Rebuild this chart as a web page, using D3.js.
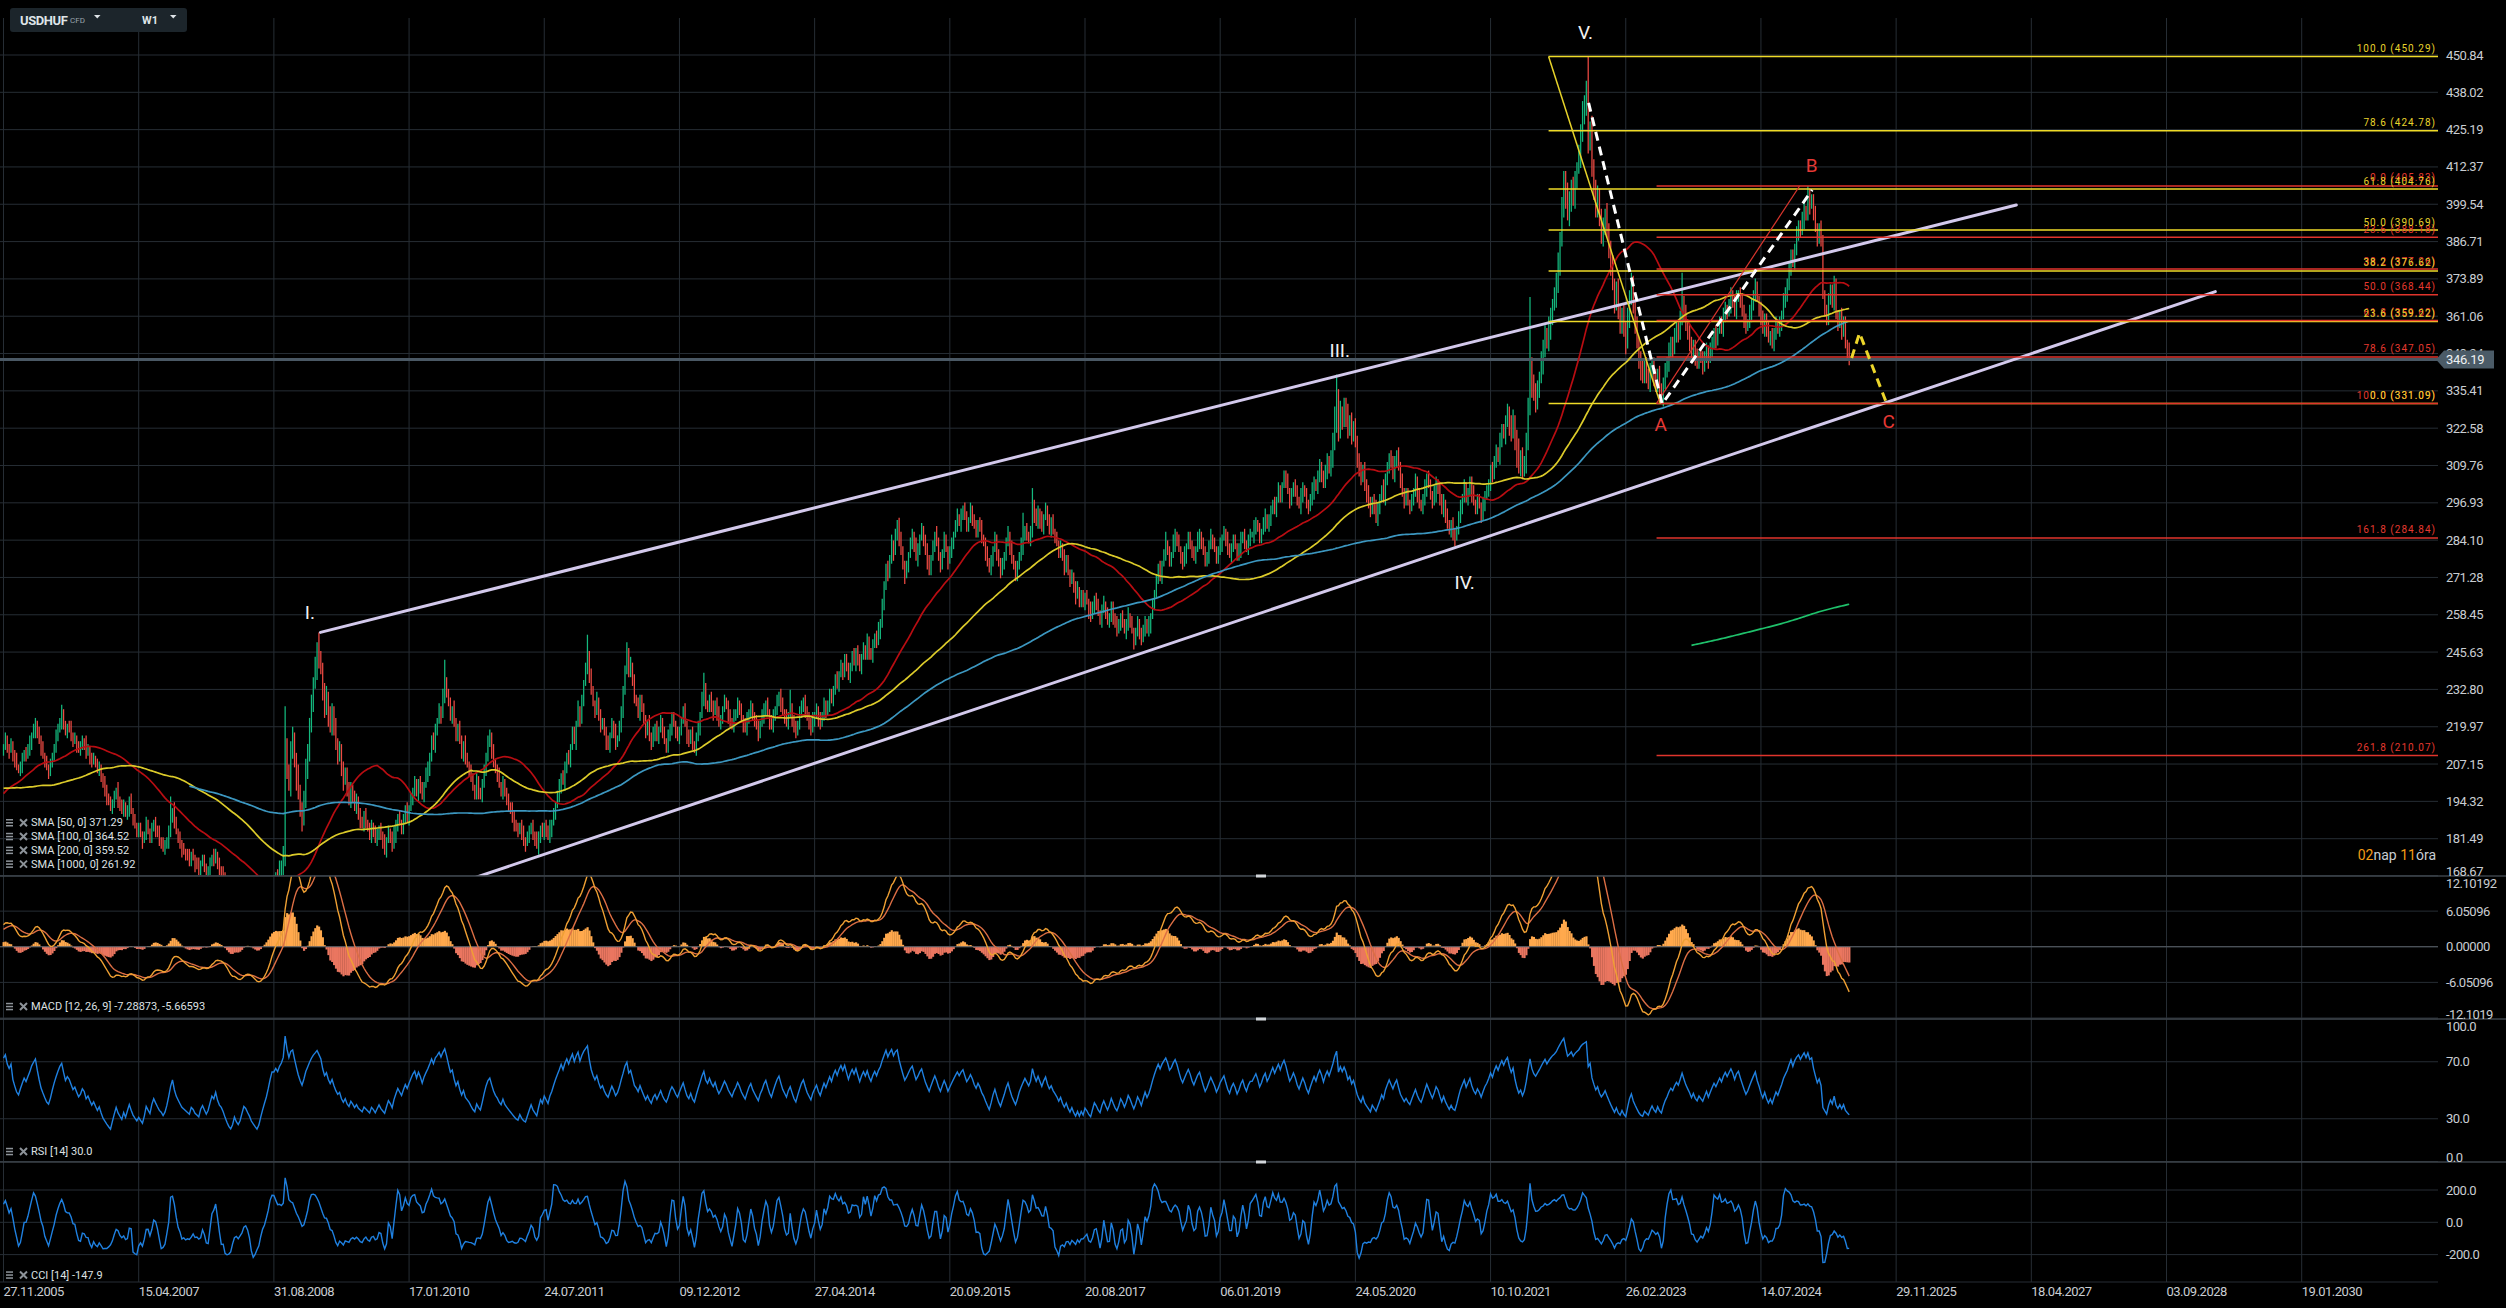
<!DOCTYPE html>
<html>
<head>
<meta charset="utf-8">
<title>USDHUF W1</title>
<script src="https://cdn.jsdelivr.net/npm/d3@7/dist/d3.min.js"></script>
<style>
  html, body { margin: 0; padding: 0; background: #000; overflow: hidden; }
  svg { display: block; }
  text { font-family: Roboto, "Noto Sans", sans-serif; }
</style>
</head>
<body>
<svg id="chart"></svg>
<script>
// ---------------- data ----------------

// one axis label every 72 weekly bars
const barsPerLabel = 72;
const dateLabels = ["27.11.2005", "15.04.2007", "31.08.2008", "17.01.2010", "24.07.2011", "09.12.2012",
  "27.04.2014", "20.09.2015", "20.08.2017", "06.01.2019", "24.05.2020", "10.10.2021", "26.02.2023",
  "14.07.2024", "29.11.2025", "18.04.2027", "03.09.2028", "19.01.2030"];

const priceTicks = [450.84, 438.02, 425.19, 412.37, 399.54, 386.71, 373.89, 361.06, 348.24, 335.41, 322.58,
  309.76, 296.93, 284.10, 271.28, 258.45, 245.63, 232.80, 219.97, 207.15, 194.32, 181.49, 168.67];
const macdTicks = [12.10192, 6.05096, 0, -6.05096, -12.10192];
const macdTickLabels = ["12.10192", "6.05096", "0.00000", "-6.05096", "-12.1019"];
const rsiTicks = [100, 70, 30, 0];
const cciTicks = [200, 0, -200];

// weekly closes before the visible window (only feed the moving averages)
const preCloses = [
  212,208,210,214,212, 207,205,203,206, 208,206,204,202,207, 209,211,213,210, 208,206,204,207,205,
  204,206,207,205, 202,200,203,205, 203,201,200,199,201, 200,198,197,195, 196,193,190,188,186,
  184,183,181,182, 180,179,181,180,
  184,188,190,189,187, 185,183,182,180, 182,185,189,192,191, 190,193,195,196, 194,197,199,201,203,
  205,207,206,204, 208,206,204,203,200, 198,196,197,199, 201,200,202,204,205, 206,207,209,210, 211,212
];

// weekly closes, visible bars (bar 0 = 27.11.2005)
const closes = [
  // 2005-2006
  213,215,213,212,214, 210,208,206,205,207,209,211,210, 212,214,217,219,221,218,215,212,210,208,
  206,205,207,210,213,216, 219,222,224,221,218,220, 219,217,215,216,214,212,213,215,214,211,212,
  210,208,209,207,205,206,
  // 2006-2007
  203,200,198,196,194,192,194,196,198,195,193,191,193,190,192,194,
  191,188,186,184,185,183,181,183,186,184,182,185,
  187,185,183,181,180,178,179,181,184,188,191,187,184,182,
  180,178,177,176,175,174,176,175,173,172,171,173,174,172,170,171,173,175,174,176,173,171,170,168,
  // 2008
  165,162,159,157,158,160,157,155,156,158,160,159,157,155,152,150,148,146,147,149,151,153,155,158,162,166,
  166,168,167,170,172,176,212,205,200,
  212,215,209,203,197,192,188,195,205,212,220,228,
  // 2009
  235,240,246,243,240, 232,226,230,224,220,225,219,214,210,212, 205,201,204,198,195,199,196,192,194,
  190,188,186,189,187,185,183,186,184,181,183,185,182,180,178,181,184,182,179,183,186,189,187,185,
  188,191,189,192,
  // 2010
  195,198,200,197,201,199,196,200,203,206,210,215,213,219,222,226,224,230,235,232,
  228,224,226,221,217,220,215,211,214,209,207,205, 202,199,197,201,198,196,200,
  205,210,214,216,212,208,205, 203,200,198,201,197,195,193,
  // 2011
  191,189,187,185,184,186,183,181,180,182,184,186,183,181,179,182,185,183,186,184,182,185,187,190,193,196,
  199,203,201,206,210,208,213, 218,215,221,226,222,229,235,240,245,238,
  // 2012
  232,228,225,229,224, 220,222,218,215,213,217,221,218,214,216,220, 226,232,240,245,238,241,236,230,
  228,225,230,226,222,218,221,217,214,218,220,216,
  219,222,218,215,213,216,220,223,221,218,216,219,222,225,221,217,215,218,214,212,216,220,224,
  // 2013-2014
  229,233,228,226,230,
  227,225,228,224,221,223,226,229,227,224, 222,220,223,225,228,226,223,221,219,222,
  225,227,224,222,220,218,221,223,226,228, 225,222,220,223,226,229,231,228,225,223,
  221,224,226,223,220,218,221,224,227,229, 226,223,221,219,222,224,
  226,223,221,224,227,225,228,231,229,233,236,234,238,241,239,243,240,237,241,244,
  242,246,243,240,244,247,245,249,246,244,248,251,249,253,256,
  // 2015
  262,268,275,272,278,283,280,286,
  289,284,280,276,272,275,279,283,286,282, 278,281,285,288,284,280,277,274,278,282,
  286,283,279,276,280,284,281,277,280,
  283,286,289,292,290,293,295,292,289,291,294,292,289,287,290,288,285,283,
  // 2016-2017
  280,277,274,277,281,284,280,276,273,276,279,283,286,282,278,275,272,275,279,282,285,288,286,284,287,
  297,
  293,290,294,291,288,292,295,291,288,290,287,285,
  283,280,282,278,275,277,273,270,272,268,265,267,263,265,
  262,265,263,260,258,261,264,262,259,257,260,262,259,256,258,261,258,255,253,
  // 2018
  255,258,256,253,255,258,256,253,250,252,255,253,250,253,256,253,255,258,
  262,266,270,274,272,276,279,
  282,280,277,279,283,286,284,281,278,276, 279,282,285,283,280,278,281,284,286,283,
  280,277,279,282,285,283,281,278,280,283, 285,287,284,281,279,282,284,282,279,281,
  284,286,283,281,284,286,
  // 2019
  286,288,290,288,285,287,290,292,289,291, 294,297,295,298,301,299,303,306,304,301,
  298,300,303,301,298,296,299,302,300,297, 295,298,301,304,302,306,309,307,304,308,
  311,309,313,318,
  // 2020
  326,333,322,328,325,330,327,322,325,320,323,318,
  312,308,305,309,303,300,297,294,298,295,292,
  295,298,302,299,305,309,313,310,307,311,314,309,304,301,298,300,297,295,298,301,
  304,300,297,295,298,302,306,303,300,297,
  // 2021
  300,304,302,298,294,297,293,290,287,289,286,285,288,292,296,
  299,302,298,301,304,300,297,295,298,296,293,296,299,301,
  304,308,306,311,315,313,318,322,320,325,328,324,321,325,
  // 2022
  319,314,310,312,308,311, 318,330,345,338,334,
  332,336,340,345,350,355,352,357,361,365, 368,372,380,388,398,408,402,396,400,405,
  402,408,412,416,424,430,434,438,420,426,
  412,405,398,402,394,389,392,396,390,
  // 2023
  384,378,372,366,370,362,358,362,356,352,
  360,368,373,364,358,352,346,342,340,344,341,338,342,345,340,337,341,
  336,333,338,
  342,345,349,352,350,354,357,355,360,366,362,358,
  355,352,348,351,347,345,348,346,344,347,350,346,349,352,355,
  // 2024
  353,356,359,357,361,364,362,365,368,366,363,367,369,366,363,360,357,359,362,365,368,371,367,
  364,360,357,360,356,353,355,352,355,358,356,359,362,366,369,
  372,377,382,379,385,389,392,390,
  // 2025
  394,398,396,402,399,401, 396,392,388,391,387, 368,364,360,366,370,366,
  372,362,358,361,356,359,352,349,346.19
];

// shadow length above / below the candle body, all bars (history first)
const wickUp = [
  1,2,1,3,2,1,1,2,2,1,3,1,2,1,1,2,3,1,2,2,1,1,2,1,3,2,1,2,1,1,2,2,3,1,1,2,1,2,2,1,3,1,1,2,2,1,2,3,1,1,
  2,1,2,2,1,3,1,2,1,1,2,2,1,3,2,1,1,2,1,2,3,1,2,1,1,2,2,1,3,1,2,1,2,1,1,3,2,1,2,1,2,2,1,1,3,1,2,2,1,2,
  1,3,2,1,2,1,2,3,1,1,2,1,2,2,3,1,2,1,1,2,2,3,1,2,1,2,1,1,3,2,1,2,2,1,1,2,3,1,2,1,1,2,2,1,3,2,1,1,2,1,
  2,2,1,1,3,2,1,2,1,2,1,3,1,2,2,1,1,2,3,1,2,1,2,2,1,1,3,2,1,2,1,2,1,3,1,2,2,1,2,1,1,3,2,1,2,1,2,1,2,3,
  1,2,1,2,3,1,2,2,1,1,2,1,3,2,1,2,1,2,2,1,3,1,1,2,2,1,2,1,3,2,1,2,1,1,2,3,1,2,2,1,3,2,4,2,3,2,3,4,2,3,
  3,4,2,3,5,3,2,4,3,2,3,4,2,3,3,2,4,3,2,3,2,3,4,2,3,3,2,4,2,3,2,3,2,2,3,2,1,2,3,2,2,1,2,3,1,2,2,1,2,2,
  1,2,2,3,1,2,1,2,3,2,1,2,1,2,2,3,1,2,1,3,2,1,2,2,1,3,2,1,2,3,2,1,2,1,3,2,2,1,2,1,3,2,1,2,2,1,3,2,1,2,
  2,1,3,2,1,2,2,1,3,1,2,2,1,2,3,1,2,1,2,2,1,3,2,1,2,1,2,3,1,2,2,1,2,1,3,2,1,2,1,2,2,3,1,2,1,2,3,1,2,2,
  1,2,1,2,2,1,3,1,2,1,2,1,1,2,2,1,3,1,2,1,1,2,2,1,2,1,3,1,2,1,2,1,1,2,3,1,2,1,2,1,1,2,2,1,3,1,2,1,2,1,
  2,1,2,1,3,1,2,2,1,2,1,1,2,3,1,2,1,2,1,2,2,1,3,1,2,1,1,2,2,1,2,3,1,1,2,1,2,2,1,3,1,2,1,2,1,2,3,1,2,1,
  1,2,2,1,3,2,1,2,1,2,3,1,2,1,2,2,1,3,1,2,2,1,2,1,3,2,1,2,1,2,2,3,1,2,1,2,1,3,2,1,2,2,1,2,3,1,2,1,2,2,
  2,1,2,3,1,2,2,1,2,1,3,2,1,2,1,2,3,1,2,2,1,2,1,3,1,2,2,1,3,2,1,2,1,2,2,1,3,2,1,2,1,2,3,2,1,2,1,3,2,1,
  1,3,2,1,2,2,1,2,3,1,2,1,2,2,1,3,2,1,2,1,2,3,1,2,2,1,2,1,3,2,1,2,2,1,2,3,1,2,1,2,2,1,3,2,1,2,1,2,2,1,
  2,2,1,3,1,2,1,2,2,3,1,2,1,2,1,3,2,2,1,2,1,2,3,1,2,2,1,2,1,3,2,1,2,2,1,2,3,1,2,1,2,2,1,3,2,1,2,1,2,3,
  1,2,1,2,3,2,1,2,2,1,3,1,2,1,2,2,3,1,2,1,2,2,1,3,2,1,2,1,2,3,1,2,2,1,2,1,3,2,1,2,2,1,2,3,1,2,1,2,2,1,
  2,1,3,2,1,2,2,1,2,3,1,2,1,2,2,1,3,2,1,2,1,2,3,1,2,2,1,2,1,3,2,1,2,2,3,1,2,1,2,2,1,3,2,1,2,1,2,3,2,1,
  2,3,2,1,2,3,2,2,3,4,5,3,4,2,3,3,4,2,3,2,3,2,2,3,1,2,2,3,2,1,2,3,2,2,1,3,2,2,1,2,3,2,1,2,2,3,1,2,2,1,
  2,1,3,2,2,1,2,3,1,2,2,1,3,2,1,2,2,3,1,2,1,2,3,2,1,2,2,1,3,2,1,2,2,3,1,2,2,1,3,2,2,1,2,3,2,2,1,3,2,2,
  2,3,2,3,4,2,3,5,3,4,2,3,3,4,2,3,4,3,2,4,3,3,2,4,3,2,3,4,3,2,4,3,3,5,4,3,4,3,2,4,3,5,3,4,3,2,4,3,3,4,
  3,4,3,2,4,3,3,4,2,3,4,3,2,3,3,4,2,3,2,3,3,2,3,4,2,3,2,3,2,2,3,2,3,2,2,3,2,3,2,2,3,2,2,3,2,2,3,2,3,2,
  2,2,3,1,2,3,2,2,1,3,2,2,3,1,2,2,3,2,1,2,3,2,2,3,1,2,3,2,2,1,3,2,2,3,2,1,2,3,2,2,3,1,2,2,3,2,2,1,3,2,
  2,3,2,2,1,3,2,2,3,2,1,2,3,2,2,3,1,2,3,2,2,1,3,2,2,3,2,1,2,3,2,2,1,3,2,2,3,2,1,2,3,2,2,3,1,2,3,2,2,1
];
const wickDn = [
  2,1,1,2,3,1,2,1,2,2,1,3,1,2,1,2,1,3,2,1,1,2,2,1,3,1,2,2,1,1,2,3,1,2,1,2,2,1,1,3,2,1,2,1,2,1,3,1,2,2,
  1,2,3,1,2,1,1,2,2,3,1,2,1,2,1,3,2,1,2,1,1,2,3,1,2,2,1,1,2,3,1,2,1,2,2,1,3,1,1,2,2,1,2,3,1,2,1,1,2,2,
  2,1,2,3,1,2,2,1,1,2,3,1,2,1,2,2,1,3,2,1,2,1,2,1,3,2,1,2,2,1,1,3,2,1,2,1,2,2,1,3,1,2,1,2,2,1,3,2,1,1,
  1,2,2,1,2,3,1,1,2,2,1,3,2,1,2,1,2,3,1,2,1,2,2,1,3,1,2,1,2,2,1,3,1,2,2,1,2,1,3,2,1,2,1,2,2,3,1,2,1,2,
  2,1,3,1,2,2,1,2,1,3,2,1,2,1,2,2,3,1,2,1,2,2,1,3,1,2,1,2,3,2,1,2,1,2,2,1,3,2,1,2,3,2,3,4,2,3,4,2,3,3,
  4,3,2,4,3,3,5,2,3,4,2,3,3,4,2,3,2,4,3,2,3,3,2,4,2,3,2,2,3,2,2,3,1,2,2,3,2,1,2,2,3,1,2,2,1,2,3,2,1,2,
  2,1,2,2,3,1,2,2,1,3,2,1,2,2,1,2,3,1,2,2,1,3,2,1,2,1,2,3,2,1,2,2,1,3,1,2,2,1,2,3,1,2,2,1,2,3,2,1,2,1,
  1,2,2,3,1,2,1,2,2,1,3,2,1,2,1,2,3,1,2,2,1,2,3,1,2,1,2,2,3,1,2,1,2,2,1,3,2,1,2,2,1,2,3,1,2,1,2,2,1,3,
  2,1,2,1,1,3,1,2,1,2,1,2,3,1,1,2,1,2,2,1,1,3,1,2,1,2,2,1,1,2,3,1,2,1,1,2,2,1,2,3,1,1,2,1,2,2,1,3,1,2,
  1,2,1,2,2,1,3,1,2,1,2,2,1,1,3,2,1,2,1,2,1,3,1,2,2,1,1,2,3,1,2,1,2,2,1,1,3,2,1,2,1,2,2,1,3,1,2,1,2,2,
  2,1,3,2,1,2,2,1,3,1,2,1,2,2,3,1,2,1,2,1,3,2,2,1,2,1,2,3,1,2,2,1,2,1,3,2,1,2,2,1,3,1,2,2,1,2,1,3,2,1,
  1,2,2,1,3,2,1,2,1,2,2,3,1,2,1,2,1,3,2,2,1,2,1,2,3,1,2,2,1,2,3,1,2,1,2,2,1,3,2,1,2,1,3,2,2,1,2,1,2,3,
  2,2,1,3,1,2,2,1,2,1,3,2,1,2,2,1,3,1,2,2,1,2,1,3,2,1,2,2,1,3,1,2,1,2,2,1,3,2,1,2,2,1,2,3,1,2,1,2,2,3,
  1,2,3,1,2,1,2,2,3,1,2,1,2,2,1,3,2,1,2,1,2,3,1,2,2,1,2,1,3,2,1,2,2,1,2,3,1,2,1,2,2,3,1,2,1,2,2,1,3,2,
  2,1,2,2,1,3,2,1,2,1,2,3,1,2,2,1,2,3,1,2,1,2,2,1,3,2,1,2,2,1,3,1,2,2,1,2,1,3,2,1,2,2,3,1,2,1,2,2,1,3,
  1,2,2,1,3,2,1,2,2,3,1,2,1,2,2,1,3,2,1,2,2,1,3,1,2,2,1,2,3,1,2,2,1,2,1,3,2,1,2,2,1,3,2,1,2,2,1,2,3,1,
  2,2,3,2,2,3,2,3,4,3,5,4,3,3,2,4,3,2,3,2,2,3,2,2,1,2,3,2,2,1,2,2,3,2,1,2,3,2,2,1,2,3,2,1,2,2,3,2,1,2,
  1,2,2,3,2,1,2,2,3,1,2,2,1,3,2,2,1,2,3,2,1,2,2,3,1,2,2,3,2,1,2,2,3,1,2,2,1,3,2,2,1,2,3,2,1,2,2,3,2,1,
  3,2,4,3,2,4,5,3,4,3,2,4,3,3,5,2,4,3,3,2,4,3,2,3,4,3,2,4,3,5,3,3,4,2,4,3,3,4,3,2,4,3,3,4,3,2,3,4,3,3,
  2,3,4,3,2,3,3,2,4,3,2,3,3,2,4,2,3,3,2,3,2,3,3,2,2,3,2,3,2,3,2,2,3,2,3,2,2,3,2,3,2,2,3,2,2,3,2,2,3,2,
  2,3,2,2,1,3,2,2,3,1,2,2,3,2,1,2,3,2,2,1,3,2,2,3,1,2,2,3,2,1,2,3,2,2,1,3,2,2,3,2,1,2,2,3,2,1,2,3,2,2,
  3,2,2,1,2,3,2,2,1,3,2,2,3,1,2,2,3,2,2,1,3,2,2,1,2,3,2,2,1,3,2,2,3,2,1,2,3,2,2,1,2,3,2,2,1,3,2,2,3,2
];

// single weekly highs / lows that stick out (visible bar, price)
const extremeHighs = [[17, 223], [31, 227.5], [89, 196], [150, 227], [168, 252.4], [235, 243], [259, 219],
  [311, 251.6], [332, 249], [373, 238.5], [419, 232.7], [477, 291.8], [543, 293.5], [548, 302], [619, 287],
  [710, 341], [813, 367.7], [844, 450.3], [894, 376], [961, 405.8]];
const extremeLows = [[602, 246.5], [773, 283], [883, 331.1]];

const lastPrice = 346.19;

// moving averages shown on the chart
const smaPeriods = [50, 100, 200, 1000];
const smaLegend = ["SMA [50, 0] 371.29", "SMA [100, 0] 364.52", "SMA [200, 0] 359.52", "SMA [1000, 0] 261.92"];
const macdLegend = "MACD [12, 26, 9] -7.28873,  -5.66593";
const rsiLegend = "RSI [14] 30.0";
const cciLegend = "CCI [14] -147.9";

// drawings: [bar, price]
const channelUpper = [[168.8, 252.4], [1072, 399.3]];
const channelLower = [[240, 165.7], [1178, 369.5]];
const waveDash = [[844.2, 434.4], [883.4, 330.9], [963.3, 404.5]];
const projectionDash = [[984.3, 346.7], [988.5, 355.3], [1002.4, 332]];
const fibSwingDown = [[822.9, 450.29], [882.4, 331.09]];
const fibSwingUp = [[880.4, 331.09], [956.6, 405.83]];

const fibDownLevels = ["100.0", "78.6", "61.8", "50.0", "38.2", "23.6", "0.0"];
const fibDownValues = [450.29, 424.78, 404.76, 390.69, 376.62, 359.22, 331.09];
const fibUpLevels = ["0.0", "23.6", "38.2", "50.0", "61.8", "78.6", "100.0", "161.8", "261.8"];
const fibUpValues = [405.83, 388.18, 377.26, 368.44, 359.62, 347.05, 331.09, 284.84, 210.07];

const waveNames = ["I.", "III.", "IV.", "V.", "A", "B", "C"];
const wavePoints = [[163.2, 259.2], [711.7, 349.2], [778.2, 269.5], [842.6, 458.7], [882.6, 323.7], [963, 412.7], [1004, 324.8]];

// ---------------- layout ----------------
const W = 2506, H = 1308;
const plotRight = 2438;
const panes = {
  price: { top: 18, bottom: 876 },
  macd: { top: 876, bottom: 1019 },
  rsi: { top: 1019, bottom: 1162 },
  cci: { top: 1162, bottom: 1282 }
};
const gridColor = "#262d34";
const textColor = "#c9cdd2";

const svg = d3.select("#chart").attr("width", W).attr("height", H);
svg.append("rect").attr("width", W).attr("height", H).attr("fill", "#000");

const x = d3.scaleLinear().domain([0, barsPerLabel * (dateLabels.length - 1)]).range([3.5, 2301.7]);
const yPrice = d3.scaleLinear().domain([priceTicks[priceTicks.length - 1], priceTicks[0]]).range([876, 55]);
const yMacd = d3.scaleLinear().domain([macdTicks[4], macdTicks[0]]).range([1018, 875.5]);
const yRsi = d3.scaleLinear().domain([0, 100]).range([1161.5, 1019]);
const yCci = d3.scaleLinear().domain([-200, 200]).range([1254.6, 1190]);
const step = x(1) - x(0);

const defs = svg.append("defs");
Object.keys(panes).forEach(function (k) {
  defs.append("clipPath").attr("id", "clip-" + k).append("rect")
    .attr("x", 0).attr("y", panes[k].top)
    .attr("width", plotRight).attr("height", panes[k].bottom - panes[k].top);
});

function hline(g, y, x1, x2, color, w) {
  g.append("line").attr("x1", x1).attr("x2", x2).attr("y1", y).attr("y2", y)
    .attr("stroke", color).attr("stroke-width", w);
}

// ---------------- grid ----------------
const grid = svg.append("g");
dateLabels.forEach(function (d, k) {
  const gx = x(k * barsPerLabel);
  grid.append("line").attr("x1", gx).attr("x2", gx).attr("y1", panes.price.top).attr("y2", panes.cci.bottom)
    .attr("stroke", gridColor).attr("stroke-width", 1);
});
priceTicks.forEach(function (v) { hline(grid, yPrice(v), 0, plotRight, gridColor, 1); });
macdTicks.forEach(function (v) { hline(grid, yMacd(v), 0, plotRight, gridColor, 1); });
rsiTicks.forEach(function (v) { hline(grid, yRsi(v), 0, plotRight, gridColor, 1); });
cciTicks.forEach(function (v) { hline(grid, yCci(v), 0, plotRight, gridColor, 1); });
hline(grid, panes.cci.bottom, 0, plotRight, gridColor, 1);

// ---------------- bars ----------------
const allClose = preCloses.concat(closes);
const offset = preCloses.length;
const bars = allClose.map(function (c, idx) {
  const o = idx > 0 ? allClose[idx - 1] : c;
  return {
    bar: idx - offset, o: o, c: c,
    hi: Math.max(o, c) + (wickUp[idx] || 0),
    lo: Math.min(o, c) - (wickDn[idx] || 0)
  };
});
extremeHighs.forEach(function (e) { const d = bars[e[0] + offset]; d.hi = Math.max(d.hi, e[1]); });
extremeLows.forEach(function (e) { const d = bars[e[0] + offset]; d.lo = Math.min(d.lo, e[1]); });
const visible = bars.filter(function (d) { return d.bar >= 0; });

// indicators are computed from the bars, the same way the platform does it
function sma(arr, n) {
  const out = []; let s = 0;
  for (let i = 0; i < arr.length; i++) {
    s += arr[i]; if (i >= n) s -= arr[i - n];
    out.push(i >= n - 1 ? s / n : null);
  }
  return out;
}
function ema(arr, n) {
  const k = 2 / (n + 1); const out = [];
  arr.forEach(function (v, i) { out.push(i === 0 ? v : v * k + out[i - 1] * (1 - k)); });
  return out;
}
function rsi(arr, n) {
  const out = arr.map(function () { return null; });
  let ag = 0, al = 0;
  for (let i = 1; i < arr.length; i++) {
    const ch = arr[i] - arr[i - 1], g = Math.max(ch, 0), l = Math.max(-ch, 0);
    if (i <= n) { ag += g / n; al += l / n; if (i < n) continue; }
    else { ag = (ag * (n - 1) + g) / n; al = (al * (n - 1) + l) / n; }
    out[i] = al === 0 ? 100 : 100 - 100 / (1 + ag / al);
  }
  return out;
}
function cci(n) {
  const tp = bars.map(function (d) { return (d.hi + d.lo + d.c) / 3; });
  return tp.map(function (v, i) {
    if (i < n - 1) return null;
    const win = tp.slice(i - n + 1, i + 1), m = d3.mean(win);
    const md = d3.mean(win, function (t) { return Math.abs(t - m); });
    return md === 0 ? 0 : (v - m) / (0.015 * md);
  });
}

const smaColors = ["#b80d12", "#dccb2a", "#3c97c0", "#1fc16b"];
const ema12 = ema(allClose, 12), ema26 = ema(allClose, 26);
const macdLine = ema12.map(function (v, i) { return v - ema26[i]; });
const signalLine = ema(macdLine, 9);
const rsiLine = rsi(allClose, 14);
const cciLine = cci(14);

// ---------------- price pane ----------------
const pricePane = svg.append("g").attr("clip-path", "url(#clip-price)");
pricePane.append("g").selectAll("line").data(visible).join("line")
  .attr("x1", function (d) { return x(d.bar); }).attr("x2", function (d) { return x(d.bar); })
  .attr("y1", function (d) { return yPrice(d.hi); }).attr("y2", function (d) { return yPrice(d.lo); })
  .attr("stroke", function (d) { return d.c >= d.o ? "#14b97e" : "#ee4a43"; })
  .attr("stroke-width", 1.25);

// current price line
hline(pricePane, yPrice(lastPrice), 0, plotRight, "#4a5864", 3);

const linePrice = d3.line().x(function (d) { return x(d[0]); }).y(function (d) { return yPrice(d[1]); });
smaPeriods.forEach(function (n, k) {
  const s = sma(allClose, n);
  const pts = [];
  s.forEach(function (v, idx) { if (v !== null && idx >= offset) pts.push([idx - offset, v]); });
  pricePane.append("path").attr("d", linePrice(pts)).attr("fill", "none")
    .attr("stroke", smaColors[k]).attr("stroke-width", 1.7);
});

// channel
[channelUpper, channelLower].forEach(function (c) {
  pricePane.append("path").attr("d", linePrice(c)).attr("stroke", "#d3c9ec").attr("stroke-width", 3)
    .attr("fill", "none").attr("stroke-linecap", "round");
});

// fibonacci retracements
const fibG = pricePane.append("g");
fibDownValues.forEach(function (v) { hline(fibG, yPrice(v), x(fibSwingDown[0][0]), plotRight, "#efdb28", 1.5); });
fibUpValues.forEach(function (v) { hline(fibG, yPrice(v), x(fibSwingUp[0][0]), plotRight, "#e0342c", 1.5); });
fibG.append("path").attr("d", linePrice(fibSwingDown)).attr("stroke", "#e6d22a").attr("stroke-width", 1.5).attr("fill", "none");
fibG.append("path").attr("d", linePrice(fibSwingUp)).attr("stroke", "#d8352d").attr("stroke-width", 1.2).attr("fill", "none");
function fibLabel(lvl, v, color) {
  svg.append("text").attr("x", plotRight - 2).attr("y", yPrice(v) - 4.5)
    .attr("text-anchor", "end").attr("font-size", 10).attr("letter-spacing", "1px")
    .attr("fill", color).text(lvl + " (" + v.toFixed(2) + ")");
}
fibUpLevels.forEach(function (l, k) { fibLabel(l, fibUpValues[k], "#e5392f"); });
fibDownLevels.forEach(function (l, k) { fibLabel(l, fibDownValues[k], "#e8d42c"); });

// wave paths
pricePane.append("path").attr("d", linePrice(waveDash)).attr("stroke", "#ffffff").attr("stroke-width", 3)
  .attr("stroke-dasharray", "9,6").attr("fill", "none");
pricePane.append("path").attr("d", linePrice(projectionDash)).attr("stroke", "#ecd52a").attr("stroke-width", 3)
  .attr("stroke-dasharray", "9,6").attr("fill", "none");

waveNames.forEach(function (t, k) {
  svg.append("text").attr("x", x(wavePoints[k][0])).attr("y", yPrice(wavePoints[k][1]))
    .attr("text-anchor", "middle").attr("dominant-baseline", "central")
    .attr("font-size", 19).attr("fill", k >= 4 ? "#e53935" : "#f2f2f2").text(t);
});

// ---------------- MACD ----------------
const macdPane = svg.append("g").attr("clip-path", "url(#clip-macd)");
macdPane.append("g").selectAll("rect").data(visible).join("rect")
  .attr("x", function (d) { return x(d.bar) - step / 2; })
  .attr("width", step + 0.3)
  .attr("y", function (d) { const h = macdLine[d.bar + offset] - signalLine[d.bar + offset]; return Math.min(yMacd(h), yMacd(0)); })
  .attr("height", function (d) { const h = macdLine[d.bar + offset] - signalLine[d.bar + offset]; return Math.abs(yMacd(h) - yMacd(0)); })
  .attr("fill", function (d) { return macdLine[d.bar + offset] - signalLine[d.bar + offset] >= 0 ? "#ffa94d" : "#ea7660"; });
hline(macdPane, yMacd(0), 0, plotRight, "#5a6168", 1);
const lineMacd = d3.line().x(function (d) { return x(d.bar); });
macdPane.append("path").datum(visible)
  .attr("d", lineMacd.y(function (d) { return yMacd(signalLine[d.bar + offset]); }))
  .attr("fill", "none").attr("stroke", "#dc6e44").attr("stroke-width", 1.4);
macdPane.append("path").datum(visible)
  .attr("d", d3.line().x(function (d) { return x(d.bar); }).y(function (d) { return yMacd(macdLine[d.bar + offset]); }))
  .attr("fill", "none").attr("stroke", "#efa033").attr("stroke-width", 1.4);

// ---------------- RSI / CCI ----------------
const rsiPane = svg.append("g").attr("clip-path", "url(#clip-rsi)");
rsiPane.append("path").datum(visible)
  .attr("d", d3.line().x(function (d) { return x(d.bar); }).y(function (d) { return yRsi(rsiLine[d.bar + offset]); }))
  .attr("fill", "none").attr("stroke", "#1f80e0").attr("stroke-width", 1.4);
const cciPane = svg.append("g").attr("clip-path", "url(#clip-cci)");
cciPane.append("path").datum(visible)
  .attr("d", d3.line().x(function (d) { return x(d.bar); }).y(function (d) { return yCci(cciLine[d.bar + offset]); }))
  .attr("fill", "none").attr("stroke", "#1f80e0").attr("stroke-width", 1.4);

// ---------------- pane separators ----------------
[panes.macd.top, panes.rsi.top, panes.cci.top].forEach(function (y) {
  hline(svg, y, 0, W, "#3b4249", 1.5);
  svg.append("rect").attr("x", 1256).attr("y", y - 1.5).attr("width", 10).attr("height", 3).attr("fill", "#d2d6da");
});

// ---------------- axes text ----------------
function tickLabel(txt, y, pane) {
  const yy = Math.min(Math.max(y, pane.top + 7), pane.bottom - 5);
  svg.append("text").attr("x", 2446).attr("y", yy).attr("dominant-baseline", "central")
    .attr("font-size", 13).attr("letter-spacing", "-0.5px").attr("fill", textColor).text(txt);
}
priceTicks.forEach(function (v) { tickLabel(v.toFixed(2), yPrice(v), panes.price); });
macdTicks.forEach(function (v, k) { tickLabel(macdTickLabels[k], yMacd(v), panes.macd); });
rsiTicks.forEach(function (v) { tickLabel(v.toFixed(1), yRsi(v), panes.rsi); });
cciTicks.forEach(function (v) { tickLabel(v.toFixed(1), yCci(v), panes.cci); });

dateLabels.forEach(function (d, k) {
  svg.append("text").attr("x", x(k * barsPerLabel)).attr("y", 1291).attr("dominant-baseline", "central")
    .attr("font-size", 13).attr("letter-spacing", "-0.5px").attr("fill", textColor).text(d);
});

// last price tag
const yl = yPrice(lastPrice);
svg.append("path").attr("d", "M2436," + yl + "L2444," + (yl - 9) + "L2494," + (yl - 9) + "L2494," + (yl + 9) + "L2444," + (yl + 9) + "Z")
  .attr("fill", "#4b5b67");
svg.append("text").attr("x", 2446).attr("y", yl).attr("dominant-baseline", "central")
  .attr("font-size", 13).attr("letter-spacing", "-0.3px").attr("fill", "#eef1f3").text(lastPrice.toFixed(2));

// bar countdown
const cd = svg.append("text").attr("x", 2436).attr("y", 855).attr("text-anchor", "end")
  .attr("dominant-baseline", "central").attr("font-size", 14);
cd.append("tspan").attr("fill", "#f29a16").text("02");
cd.append("tspan").attr("fill", textColor).text("nap ");
cd.append("tspan").attr("fill", "#f29a16").text("11");
cd.append("tspan").attr("fill", textColor).text("óra");

// ---------------- legends ----------------
function legendRow(y, txt) {
  [-3, 0, 3].forEach(function (dy) {
    svg.append("rect").attr("x", 6).attr("y", y + dy - 0.7).attr("width", 7).attr("height", 1.5).attr("fill", "#8d9399");
  });
  svg.append("path").attr("d", "M20," + (y - 3.5) + "L27," + (y + 3.5) + "M27," + (y - 3.5) + "L20," + (y + 3.5))
    .attr("stroke", "#8d9399").attr("stroke-width", 2);
  svg.append("text").attr("x", 31).attr("y", y).attr("dominant-baseline", "central")
    .attr("font-size", 11).attr("fill", "#dde0e3").text(txt);
}
smaLegend.forEach(function (t, k) { legendRow(822.7 + k * 13.8, t); });
legendRow(1006.5, macdLegend);
legendRow(1151.5, rsiLegend);
legendRow(1275, cciLegend);

// ---------------- symbol header ----------------
const head = svg.append("g");
head.append("rect").attr("x", 10).attr("y", 8).attr("width", 177).attr("height", 24).attr("rx", 3).attr("fill", "#1c252b");
head.append("text").attr("x", 20).attr("y", 20).attr("dominant-baseline", "central").attr("font-size", 13)
  .attr("font-weight", "bold").attr("letter-spacing", "-0.4px").attr("fill", "#dfe4e8").text("USDHUF");
head.append("text").attr("x", 70).attr("y", 20.5).attr("dominant-baseline", "central").attr("font-size", 8)
  .attr("fill", "#9aa4ab").text("CFD");
head.append("text").attr("x", 142).attr("y", 20).attr("dominant-baseline", "central").attr("font-size", 11)
  .attr("font-weight", "bold").attr("fill", "#dfe4e8").text("W1");
[94, 170].forEach(function (tx) {
  head.append("path").attr("d", "M" + tx + ",15L" + (tx + 6.5) + ",15L" + (tx + 3.25) + ",18.5Z").attr("fill", "#dfe4e8");
});
</script>
</body>
</html>
